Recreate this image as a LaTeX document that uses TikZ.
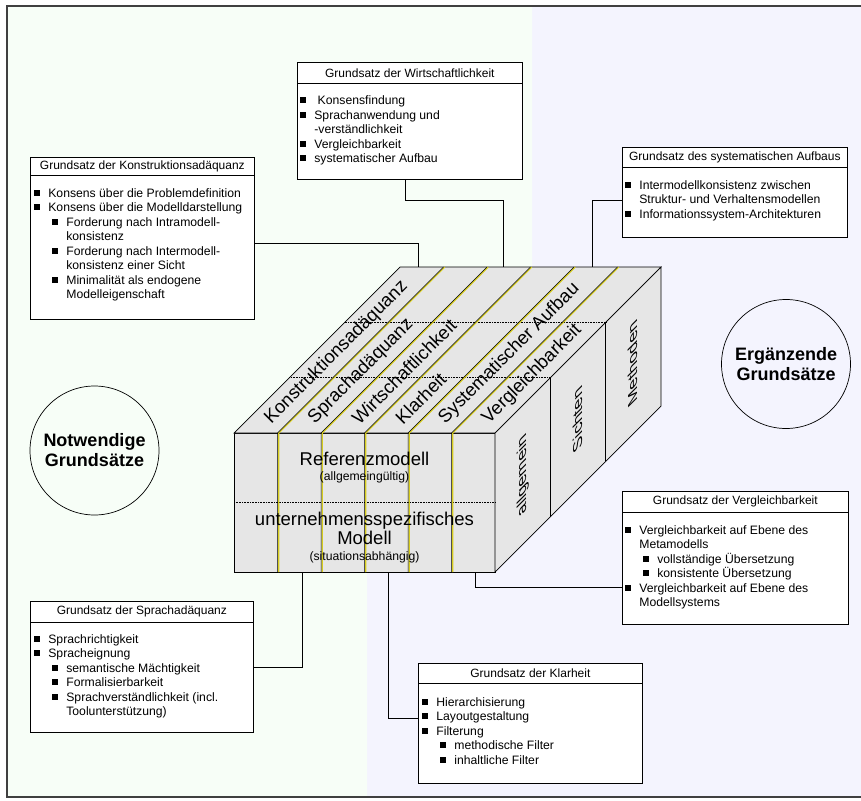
\documentclass[tikz,border=0pt]{standalone}
\usepackage{fontspec}
\setmainfont{Liberation Sans}
\usetikzlibrary{positioning}

\definecolor{bggreen}{RGB}{247,254,247}
\definecolor{bgblue}{RGB}{244,244,254}
\definecolor{cubegray}{RGB}{230,230,230}
\definecolor{stripe}{RGB}{214,204,30}

\newcommand\bul{\makebox[14pt][l]{\raisebox{1.5pt}{\rule{6pt}{6pt}}}}
\newcommand\subbul{\hspace*{18pt}\bul}
\newcommand\indA{\hspace*{14pt}}
\newcommand\indB{\hspace*{32pt}}

\begin{document}
\begin{tikzpicture}[
    x=1pt, y=-1pt,
    line width=0.7pt,
    gbox/.style={draw, fill=white, inner sep=0pt, anchor=north west},
    ghead/.style={draw, inner sep=0pt, anchor=north west, minimum height=20pt,
        font=\fontsize{12}{14}\selectfont},
    gbody/.style={inner sep=0pt, align=left, font=\fontsize{12.2}{14.5}\selectfont,
        execute at begin node={\rule{0pt}{10pt}}},
    ringnode/.style={circle, draw, minimum size=129pt, inner sep=0pt, align=center,
        font=\bfseries\fontsize{18}{20}\selectfont},
    cubelabel/.style={inner sep=0pt, font=\fontsize{18.5}{19}\selectfont},
    toplabel/.style={cubelabel, rotate=45, anchor=west},
    sidelabel/.style={cubelabel, cm={0,1,-0.7,-0.7,(0,0)}},
    stripeline/.style={draw=stripe, line width=1.2pt},
]
    \useasboundingbox (0,0) rectangle (861,800);

    % background halves and frame
    \fill[bgblue]  (7,6) rectangle (880,797);
    \fill[bggreen] (7,6) -- (532,6) -- (532,450) -- (367,450) -- (367,797) -- (7,797) -- cycle;
    \draw[line width=1.5pt, black!75] (7,6) rectangle (880,797);

    % cube
    \filldraw[fill=cubegray] (234,433) rectangle (495,572);
    \filldraw[fill=cubegray] (234,433) -- (400,267) -- (661,267) -- (495,433) -- cycle;
    \filldraw[fill=cubegray] (495,433) -- (661,267) -- (661,406) -- (495,572) -- cycle;
    \draw[densely dotted, line width=0.6pt] (234,502) -- (495,502);
    \draw[densely dotted, line width=0.6pt] (289.3,377.7) -- (550.3,377.7);
    \draw[densely dotted, line width=0.6pt] (344.7,322.3) -- (605.7,322.3);
    \draw (550.3,377.7) -- (550.3,516.7);
    \draw (605.7,322.3) -- (605.7,461.3);
    \foreach \i in {1,...,5} {
        \pgfmathsetmacro\x{234+43.5*\i}
        \draw[stripeline] ({\x+1.2},572) -- ({\x+1.2},433) -- ({\x+167.2},267);
        \draw[line width=0.5pt] (\x,572) -- (\x,433) -- ({\x+166},267);
    }

    \foreach \i/\t in {0/Konstruktionsadäquanz, 1/Sprachadäquanz, 2/Wirtschaftlichkeit,
                       3/Klarheit, 4/Systematischer Aufbau, 5/Vergleichbarkeit}
        \node[toplabel] at ({234+43.5*\i+33.75}, 421) {\t};

    \node[sidelabel] (allg) at (523,475) {allgemein};
    \node[sidelabel] (sich) at (578,420) {Sichten};
    \node[sidelabel] (meth) at (633,364) {Methoden};

    \node[cubelabel] (refm) at (364.5,459) {Referenzmodell};
    \node[cubelabel, font=\fontsize{12.2}{14}\selectfont] (refs) at (364.5,477) {(allgemeingültig)};
    \node[cubelabel, align=center] (unte) at (364.5,528.5) {unternehmensspezifisches\\Modell};
    \node[cubelabel, font=\fontsize{12.2}{14}\selectfont] (unts) at (364.5,557) {(situationsabhängig)};

    % anchor points on the cube
    \coordinate (topK) at (418,267);
    \coordinate (topW) at (503,267);
    \coordinate (topS) at (592,267);
    \coordinate (botS) at (302,572);
    \coordinate (botK) at (388,572);
    \coordinate (botV) at (475,572);

    % principle boxes
    \node[gbox, minimum width=224pt, minimum height=162pt] (konbox) at (30,157) {};
    \node[ghead, minimum width=224pt, minimum height=18pt] (konhead) at (konbox.north west)
        {Grundsatz der Konstruktionsadäquanz};
    \node[gbody, below right=12.5pt and 4pt of konhead.south west] (konbody) {%
        \bul Konsens über die Problemdefinition\\
        \bul Konsens über die Modelldarstellung\\
        \subbul Forderung nach Intramodell-\\
        \indB konsistenz\\
        \subbul Forderung nach Intermodell-\\
        \indB konsistenz einer Sicht\\
        \subbul Minimalität als endogene\\
        \indB Modelleigenschaft};

    \node[gbox, minimum width=225pt, minimum height=117pt] (wirtbox) at (297,62) {};
    \node[ghead, minimum width=225pt, minimum height=21pt] (wirthead) at (wirtbox.north west)
        {Grundsatz der Wirtschaftlichkeit};
    \node[gbody, below right=12pt and 3pt of wirthead.south west] (wirtbody) {%
        \bul\ Konsensfindung\\
        \bul Sprachanwendung und\\
        \indA -verständlichkeit\\
        \bul Vergleichbarkeit\\
        \bul systematischer Aufbau};

    \node[gbox, minimum width=225pt, minimum height=90pt] (sysbox) at (622,147) {};
    \node[ghead, minimum width=225pt] (syshead) at (sysbox.north west)
        {Grundsatz des systematischen Aufbaus};
    \node[gbody, below right=12.5pt and 3pt of syshead.south west] (sysbody) {%
        \bul Intermodellkonsistenz zwischen\\
        \indA Struktur- und Verhaltensmodellen\\
        \bul Informationssystem-Architekturen};

    \node[gbox, minimum width=226pt, minimum height=133pt] (vergbox) at (622,491) {};
    \node[ghead, minimum width=226pt, minimum height=21pt] (verghead) at (vergbox.north west)
        {Grundsatz der Vergleichbarkeit};
    \node[gbody, below right=12.5pt and 3pt of verghead.south west] (vergbody) {%
        \bul Vergleichbarkeit auf Ebene des\\
        \indA Metamodells\\
        \subbul vollständige Übersetzung\\
        \subbul konsistente Übersetzung\\
        \bul Vergleichbarkeit auf Ebene des\\
        \indA Modellsystems};

    \node[gbox, minimum width=223pt, minimum height=131pt] (sprachbox) at (30,601) {};
    \node[ghead, minimum width=223pt, minimum height=21pt] (sprachhead) at (sprachbox.north west)
        {Grundsatz der Sprachadäquanz};
    \node[gbody, below right=11.5pt and 4pt of sprachhead.south west] (sprachbody) {%
        \bul Sprachrichtigkeit\\
        \bul Spracheignung\\
        \subbul semantische Mächtigkeit\\
        \subbul Formalisierbarkeit\\
        \subbul Sprachverständlichkeit (incl.\\
        \indB Toolunterstützung)};

    \node[gbox, minimum width=224pt, minimum height=120pt] (klarbox) at (418,663) {};
    \node[ghead, minimum width=224pt] (klarhead) at (klarbox.north west)
        {Grundsatz der Klarheit};
    \node[gbody, below right=13.5pt and 4pt of klarhead.south west] (klarbody) {%
        \bul Hierarchisierung\\
        \bul Layoutgestaltung\\
        \bul Filterung\\
        \subbul methodische Filter\\
        \subbul inhaltliche Filter};

    % connectors
    \draw ([yshift=-5pt]konbox.east) -| (topK);
    \draw ([xshift=-4.5pt]wirtbox.south) -- ++(0,21) -| (topW);
    \draw ([yshift=-8pt]sysbox.west) -| (topS);
    \draw (botS) |- (sprachbox.east);
    \draw (botK) |- ([yshift=5pt]klarbox.west);
    \draw (botV) |- ([yshift=-29.5pt]vergbox.west);

    \node[ringnode] (notw) at (94.5,450.5) {Notwendige\\Grundsätze};
    \node[ringnode] (ergz) at (786,364) {Ergänzende\\Grundsätze};
\end{tikzpicture}
\end{document}
